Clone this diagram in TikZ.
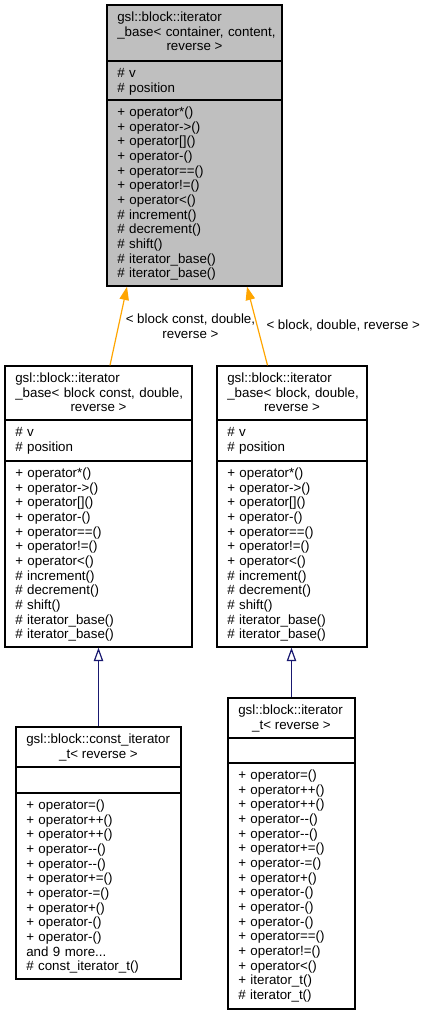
\documentclass[tikz,border=0pt]{standalone}
\usepackage{fontspec}
\usepackage{tikz}
\usetikzlibrary{arrows.meta, fit, positioning}

\newfontfamily\doxfont{Liberation Sans}
\definecolor{grey75}{HTML}{BFBFBF}
\definecolor{tmplorange}{HTML}{FFA500}
\definecolor{midnight}{HTML}{191970}

\begin{document}
\begin{tikzpicture}[x=0.75pt, y=-0.75pt,
    cls/.style={draw=black, line width=1pt, inner sep=0pt, fill=white},
    sep/.style={draw=black, line width=1pt},
    lines/.style={anchor=base west, inner sep=0pt, text width=150pt, align=left, font=\doxfont\fontsize{10}{11}\selectfont},
    ctr/.style={anchor=base, inner sep=0pt, font=\doxfont\fontsize{10}{11}\selectfont},
    lbl/.style={anchor=west, inner sep=0pt, align=center, font=\doxfont\fontsize{10}{11}\selectfont},
    tmpl/.style={draw=tmplorange, line width=0.9pt, -{Triangle[length=10pt, width=7pt]}},
    inh/.style={draw=midnight, line width=0.9pt, -{Triangle[open, length=10pt, width=7pt]}}]
\useasboundingbox (0,0) rectangle (425,1015);

\node[cls, fill=grey75, fit={(107,5) (282,286)}] (base) {};
\draw[sep] (base.west |- 0,61) -- (base.east |- 0,61);
\draw[sep] (base.west |- 0,100) -- (base.east |- 0,100);
\node[lines] (base-t) at (117,21.5) {gsl::block::iterator\\\_base< container, content,};
\node[ctr] (base-t2) at (194.5,50.8) {reverse >};
\node[lines] (base-a) at (117,77.5) {\# v\\\# position};
\node[lines] (base-m) at (117,116.5) {+ operator*()\\+ operator->()\\+ operator[]()\\+ operator-()\\+ operator==()\\+ operator!=()\\+ operator<()\\\# increment()\\\# decrement()\\\# shift()\\\# iterator\_base()\\\# iterator\_base()};

\node[cls, fit={(5,366) (192,647)}] (cblk) {};
\draw[sep] (cblk.west |- 0,420) -- (cblk.east |- 0,420);
\draw[sep] (cblk.west |- 0,461) -- (cblk.east |- 0,461);
\node[lines] (cblk-t) at (15,382.5) {gsl::block::iterator\\\_base< block const, double,};
\node[ctr] (cblk-t2) at (98.5,411.8) {reverse >};
\node[lines] (cblk-a) at (15,436.5) {\# v\\\# position};
\node[lines] (cblk-m) at (15,477.5) {+ operator*()\\+ operator->()\\+ operator[]()\\+ operator-()\\+ operator==()\\+ operator!=()\\+ operator<()\\\# increment()\\\# decrement()\\\# shift()\\\# iterator\_base()\\\# iterator\_base()};

\node[cls, fit={(217,366) (367,647)}] (mblk) {};
\draw[sep] (mblk.west |- 0,420) -- (mblk.east |- 0,420);
\draw[sep] (mblk.west |- 0,461) -- (mblk.east |- 0,461);
\node[lines] (mblk-t) at (227,382.5) {gsl::block::iterator\\\_base< block, double,};
\node[ctr] (mblk-t2) at (292,411.8) {reverse >};
\node[lines] (mblk-a) at (227,436.5) {\# v\\\# position};
\node[lines] (mblk-m) at (227,477.5) {+ operator*()\\+ operator->()\\+ operator[]()\\+ operator-()\\+ operator==()\\+ operator!=()\\+ operator<()\\\# increment()\\\# decrement()\\\# shift()\\\# iterator\_base()\\\# iterator\_base()};

\node[cls, fit={(16,727) (181,979)}] (citer) {};
\draw[sep] (citer.west |- 0,767) -- (citer.east |- 0,767);
\draw[sep] (citer.west |- 0,793) -- (citer.east |- 0,793);
\node[lines] (citer-t) at (26,743.5) {gsl::block::const\_iterator};
\node[ctr] (citer-t2) at (98.5,758.2) {\_t< reverse >};
\node[lines] (citer-m) at (26,809.5) {+ operator=()\\+ operator++()\\+ operator++()\\+ operator--()\\+ operator--()\\+ operator+=()\\+ operator-=()\\+ operator+()\\+ operator-()\\+ operator-()\\and 9 more...\\\# const\_iterator\_t()};

\node[cls, fit={(228,698) (355,1009)}] (iter) {};
\draw[sep] (iter.west |- 0,738) -- (iter.east |- 0,738);
\draw[sep] (iter.west |- 0,763) -- (iter.east |- 0,763);
\node[lines] (iter-t) at (238,714.5) {gsl::block::iterator};
\node[ctr] (iter-t2) at (291.5,729.2) {\_t< reverse >};
\node[lines] (iter-m) at (238,779.5) {+ operator=()\\+ operator++()\\+ operator++()\\+ operator--()\\+ operator--()\\+ operator+=()\\+ operator-=()\\+ operator+()\\+ operator-()\\+ operator-()\\+ operator-()\\+ operator==()\\+ operator!=()\\+ operator<()\\+ iterator\_t()\\\# iterator\_t()};

\draw[tmpl] (110,0 |- cblk.north) -- node[lbl, xshift=5pt] {< block const, double,\\reverse >} (127,0 |- base.south);
\draw[tmpl] (267.5,0 |- mblk.north) -- node[lbl, xshift=6.5pt] {< block, double, reverse >} (247,0 |- base.south);
\draw[inh] (citer.north) -- (cblk.south);
\draw[inh] (iter.north) -- (iter.north |- mblk.south);
\end{tikzpicture}
\end{document}
